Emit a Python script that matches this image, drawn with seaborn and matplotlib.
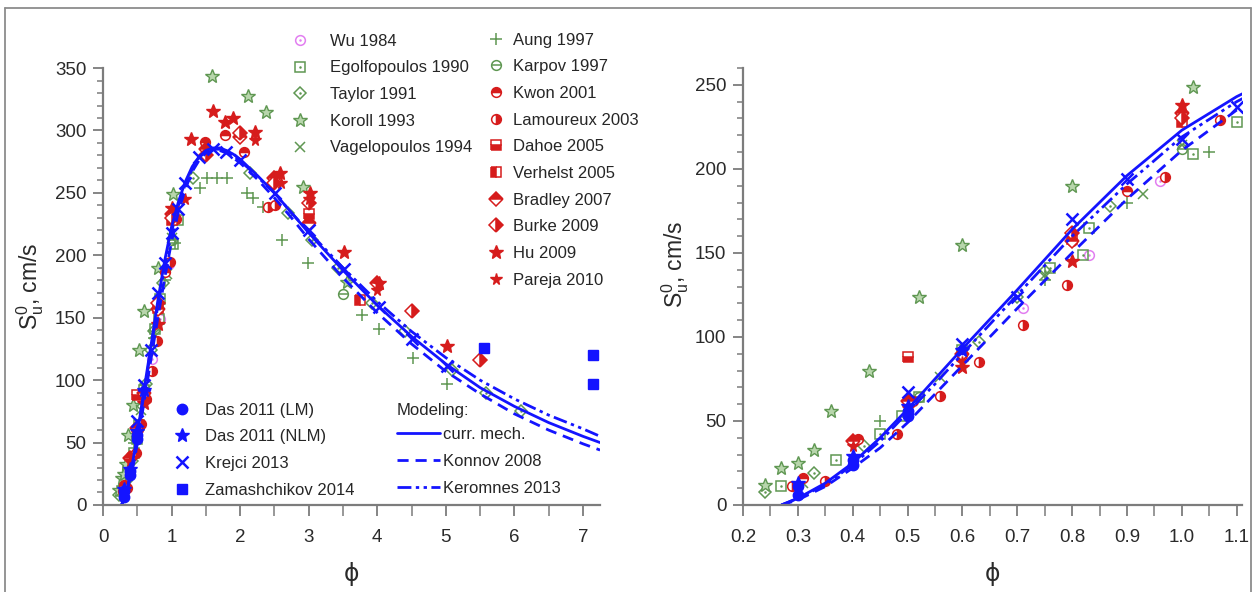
import matplotlib
matplotlib.use('Agg')
import matplotlib.pyplot as plt
from matplotlib.lines import Line2D
from matplotlib.ticker import MultipleLocator
import seaborn as sns

# ---- model curves: laminar burning velocity vs equivalence ratio ----
model_phi = [0.27, 0.30, 0.35, 0.40, 0.45, 0.50, 0.55, 0.60, 0.70, 0.80, 0.90, 1.00,
             1.10, 1.20, 1.30, 1.40, 1.50, 1.60, 1.70, 1.80, 1.90, 2.00, 2.25, 2.50,
             2.75, 3.00, 3.50, 4.00, 4.50, 5.00, 5.50, 6.00, 6.50, 7.00, 7.25]
curr_mech = [0, 4, 13, 25, 40, 57, 75, 93, 128, 164, 196, 223,
             243, 259, 271, 279, 284, 286, 286, 284, 281, 277, 264, 250,
             234, 218, 188, 160, 135, 113, 94, 79, 66, 55, 50]
konnov_2008 = [0, 3, 11, 22, 34, 49, 66, 83, 117, 150, 182, 211,
               235, 253, 267, 276, 282, 284, 284, 282, 278, 274, 261, 246,
               230, 213, 182, 154, 129, 107, 89, 73, 60, 49, 44]
keromnes_2013 = [0, 4, 12, 24, 38, 55, 72, 90, 125, 160, 191, 219,
                 240, 257, 269, 278, 283, 285, 285, 283, 280, 276, 263, 250,
                 234, 219, 190, 163, 139, 118, 100, 85, 72, 61, 55]

# ---- experimental data (phi, Su0 in cm/s) ----
wu_phi = [0.71, 0.83, 0.96]
wu_su = [117, 149, 193]
egolf_phi = [0.27, 0.37, 0.45, 0.49, 0.52, 0.60, 0.76, 0.82, 0.83, 1.02, 1.10]
egolf_su = [11, 27, 42, 53, 64, 92, 141, 149, 165, 209, 228]
taylor_phi = [0.24, 0.33, 0.42, 0.63, 0.70, 0.75, 0.87, 1.31, 2.15, 2.70,
              3.05, 3.43, 3.92, 4.41, 5.09, 5.58, 6.09]
taylor_su = [8, 19, 35, 97, 124, 139, 178, 262, 266, 234,
             212, 190, 162, 139, 108, 90, 75]
koroll_phi = [0.24, 0.27, 0.30, 0.33, 0.36, 0.43, 0.52, 0.60, 0.80, 1.02,
              1.59, 2.11, 2.38, 2.92, 3.56]
koroll_su = [12, 22, 25, 33, 56, 80, 124, 155, 190, 249,
             344, 328, 315, 255, 179]
vagel_phi = [0.31, 0.56, 0.75, 0.93, 1.00]
vagel_su = [13, 76, 137, 185, 214]
aung_phi = [0.45, 0.75, 0.90, 1.05, 1.42, 1.51, 1.66, 1.81, 2.10, 2.19,
            2.34, 2.61, 2.99, 3.78, 4.02, 4.52, 5.02]
aung_su = [50, 134, 180, 210, 254, 262, 262, 262, 250, 246,
           239, 212, 194, 152, 141, 118, 97]
karpov_phi = [0.52, 1.00, 3.50]
karpov_su = [64, 212, 169]
kwon_phi = [0.31, 0.41, 0.51, 0.60, 0.80, 0.90, 1.49, 1.78, 2.05]
kwon_su = [16, 39, 62, 89, 157, 187, 291, 296, 283]
lamoureux_phi = [0.29, 0.35, 0.48, 0.56, 0.63, 0.71, 0.79, 0.97, 1.07, 2.41, 2.51]
lamoureux_su = [11, 14, 42, 65, 85, 107, 131, 195, 229, 239, 240]
dahoe_phi = [0.50, 3.00]
dahoe_su = [88, 233]
verhelst_phi = [0.80, 1.00, 3.75]
verhelst_su = [158, 228, 164]
bradley_phi = [0.40, 0.50, 0.60, 0.80, 1.00, 1.50, 2.00, 2.50, 3.00, 4.00]
bradley_su = [38, 62, 90, 157, 233, 285, 295, 262, 226, 178]
burke_phi = [0.80, 1.00, 1.50, 2.00, 2.50, 3.00, 4.50, 5.50]
burke_su = [162, 230, 280, 298, 258, 242, 155, 116]
hu_phi = [0.60, 0.80, 1.00, 1.29, 1.60, 1.78, 1.90, 2.22, 2.58, 3.02, 3.51, 4.02, 5.02]
hu_su = [82, 145, 238, 293, 316, 307, 310, 299, 266, 250, 203, 178, 127]
pareja_phi = [0.40, 0.50, 0.60, 1.20, 2.22, 2.60, 3.00, 4.00]
pareja_su = [35, 58, 85, 245, 292, 258, 245, 172]
das_lm_phi = [0.30, 0.30, 0.40, 0.40, 0.50, 0.50]
das_lm_su = [11, 6, 27, 24, 56, 53]
das_nlm_phi = [0.30, 0.40, 0.50, 0.60]
das_nlm_su = [13, 29, 59, 92]
krejci_phi = [0.50, 0.60, 0.70, 0.80, 0.90, 1.00, 1.10, 1.20, 1.40, 1.60, 1.80,
              2.00, 2.51, 3.00, 3.51, 4.02, 4.51, 5.02]
krejci_su = [67, 96, 124, 170, 194, 218, 237, 258, 279, 285, 283,
             276, 250, 220, 189, 159, 133, 111]
zamash_phi = [5.55, 7.15, 7.15]
zamash_su = [126, 120, 97]

GREEN = '#5f9752'
GREEN_FILL = '#b8d6ac'
RED = '#d61c1c'
PINK = '#e27ef0'
BLUE = '#1414ff'
AXC = '#7c7c7c'


def open_mk(m, c, ms=7):
    return dict(marker=m, markersize=ms, color=c, markerfacecolor='none',
                markeredgecolor=c, markeredgewidth=1.1)


def half_mk(m, c, fill, ms=7):
    return dict(marker=m, markersize=ms, color=c, markerfacecolor=c,
                markerfacecoloralt='white', fillstyle=fill,
                markeredgecolor=c, markeredgewidth=1.1)


def solid_mk(m, c, ms=7):
    return dict(marker=m, markersize=ms, color=c, markerfacecolor=c,
                markeredgecolor=c, markeredgewidth=1.0)


dot_style = lambda c: dict(marker='o', markersize=1.8, color=c, markerfacecolor=c,
                           markeredgecolor=c, markeredgewidth=0)
bar_style = lambda c: dict(marker='_', markersize=7, color=c, markeredgecolor=c,
                           markeredgewidth=1.1)

# (label, phi, su, main style, overlay style)
legend_a = [
    ('Wu 1984', wu_phi, wu_su, open_mk('o', PINK), dot_style(PINK)),
    ('Egolfopoulos 1990', egolf_phi, egolf_su, open_mk('s', GREEN, 6.5), dot_style(GREEN)),
    ('Taylor 1991', taylor_phi, taylor_su, open_mk('D', GREEN, 6.5), dot_style(GREEN)),
    ('Koroll 1993', koroll_phi, koroll_su,
     dict(marker='*', markersize=10, color=GREEN, markerfacecolor=GREEN_FILL,
          markeredgecolor=GREEN, markeredgewidth=1.0), None),
    ('Vagelopoulos 1994', vagel_phi, vagel_su, open_mk('x', GREEN, 7), None),
]
legend_b = [
    ('Aung 1997', aung_phi, aung_su, open_mk('+', GREEN, 8), None),
    ('Karpov 1997', karpov_phi, karpov_su, open_mk('o', GREEN), bar_style(GREEN)),
    ('Kwon 2001', kwon_phi, kwon_su, half_mk('o', RED, 'top'), None),
    ('Lamoureux 2003', lamoureux_phi, lamoureux_su, half_mk('o', RED, 'right'), None),
    ('Dahoe 2005', dahoe_phi, dahoe_su, half_mk('s', RED, 'bottom', 6.5), None),
    ('Verhelst 2005', verhelst_phi, verhelst_su, half_mk('s', RED, 'left', 6.5), None),
    ('Bradley 2007', bradley_phi, bradley_su, half_mk('D', RED, 'top', 7), None),
    ('Burke 2009', burke_phi, burke_su, half_mk('D', RED, 'right', 7), None),
    ('Hu 2009', hu_phi, hu_su, solid_mk('*', RED, 10), None),
    ('Pareja 2010', pareja_phi, pareja_su, solid_mk('*', RED, 8.5), None),
]
legend_c = [
    ('Das 2011 (LM)', das_lm_phi, das_lm_su, solid_mk('o', BLUE, 7.5), None),
    ('Das 2011 (NLM)', das_nlm_phi, das_nlm_su, solid_mk('*', BLUE, 10), None),
    ('Krejci 2013', krejci_phi, krejci_su,
     dict(marker='x', markersize=8, color=BLUE, markeredgecolor=BLUE,
          markeredgewidth=1.8), None),
    ('Zamashchikov 2014', zamash_phi, zamash_su, solid_mk('s', BLUE, 7), None),
]
models = [
    ('curr. mech.', curr_mech, dict(linestyle='-')),
    ('Konnov 2008', konnov_2008, dict(dashes=(4, 2.5))),
    ('Keromnes 2013', keromnes_2013, dict(dashes=(5, 1.6, 1.2, 1.6, 1.2, 1.6))),
]

sns.set_style('ticks')
plt.rcParams['font.family'] = ['Liberation Sans', 'DejaVu Sans']
plt.rcParams['mathtext.fontset'] = 'custom'
plt.rcParams['mathtext.rm'] = 'Liberation Sans'
plt.rcParams['mathtext.it'] = 'Liberation Sans'

fig = plt.figure(figsize=(12.52, 5.92), dpi=100)
ax1 = fig.add_axes([0.0823, 0.147, 0.397, 0.738])
ax2 = fig.add_axes([0.5935, 0.147, 0.3986, 0.738])


def draw_points(ax, phi, su, style):
    sns.lineplot(x=phi, y=su, ax=ax, estimator=None, sort=False,
                 linestyle='none', legend=False, **style)


for ax in (ax1, ax2):
    for label, phi, su, st, over in legend_a + legend_b + legend_c:
        draw_points(ax, phi, su, st)
        if over is not None:
            draw_points(ax, phi, su, over)
    for label, su, st in models:
        sns.lineplot(x=model_phi, y=su, ax=ax, estimator=None, sort=False,
                     color=BLUE, linewidth=2.0, legend=False, **st)

ax1.set_xlim(0, 7.25)
ax1.set_ylim(0, 350)
ax1.xaxis.set_major_locator(MultipleLocator(1))
ax1.xaxis.set_minor_locator(MultipleLocator(0.5))
ax1.yaxis.set_major_locator(MultipleLocator(50))
ax1.yaxis.set_minor_locator(MultipleLocator(10))

ax2.set_xlim(0.2, 1.11)
ax2.set_ylim(0, 260)
ax2.xaxis.set_major_locator(MultipleLocator(0.1))
ax2.xaxis.set_minor_locator(MultipleLocator(0.05))
ax2.yaxis.set_major_locator(MultipleLocator(50))
ax2.yaxis.set_minor_locator(MultipleLocator(10))
ax2.set_xticklabels([f'{v:.1f}' for v in ax2.get_xticks()])

for ax, ylx, yly in ((ax1, -0.115, 0.5), (ax2, -0.105, 0.55)):
    sns.despine(ax=ax)
    for side in ('left', 'bottom'):
        ax.spines[side].set_color(AXC)
        ax.spines[side].set_linewidth(1.6)
    ax.tick_params(which='major', direction='out', length=7, width=1.3,
                   color=AXC, labelsize=13.5, labelcolor='#2a2a2a', pad=5)
    ax.tick_params(which='minor', direction='out', length=4, width=1.1, color=AXC)
    ax.tick_params(axis='x', which='both', length=8, pad=9)
    ax.set_ylabel(r'$\mathrm{S_u^0}$, cm/s', fontsize=16.5, color='#2a2a2a')
    ax.yaxis.set_label_coords(ylx, yly)
    ax.set_xlabel('ϕ', fontsize=17, color='#2a2a2a', family='DejaVu Sans')
    ax.xaxis.set_label_coords(0.5, -0.13)


def proxies(items):
    hs = []
    for label, phi, su, st, over in items:
        h = Line2D([], [], linestyle='none', **st)
        if over is not None:
            h = (h, Line2D([], [], linestyle='none', **over))
        hs.append(h)
    return hs, [it[0] for it in items]


leg_kw = dict(frameon=False, fontsize=12, borderpad=0, borderaxespad=0,
              labelspacing=0.7, handlelength=1.0, loc='upper left')
h, l = proxies(legend_a)
fig.legend(h, l, bbox_to_anchor=(0.2329, 0.943), handletextpad=1.3, **leg_kw)
h, l = proxies(legend_b)
fig.legend(h, l, bbox_to_anchor=(0.3895, 0.945), handletextpad=0.5, **leg_kw)
h, l = proxies(legend_c)
fig.legend(h, l, bbox_to_anchor=(0.1387, 0.32), handletextpad=0.9, **leg_kw)

mh = [Line2D([], [], color=BLUE, linewidth=2.0, **st) for _, _, st in models]
leg_kw.update(handlelength=2.6, labelspacing=0.7)
mleg = fig.legend(mh, [m[0] for m in models], bbox_to_anchor=(0.3171, 0.32),
                  handletextpad=0.15, title='Modeling:', alignment='left', **leg_kw)
mleg.get_title().set_fontsize(12)
mleg._legend_box.sep = 7

# thin frame around the figure
for xs, ys in (([0.004, 0.999], [0.986, 0.986]), ([0.004, 0.004], [0, 0.986]),
               ([0.999, 0.999], [0, 0.986])):
    fig.add_artist(Line2D(xs, ys, color='#8c8c8c', linewidth=1.3,
                          transform=fig.transFigure))

fig.savefig('out.png', dpi=100)
